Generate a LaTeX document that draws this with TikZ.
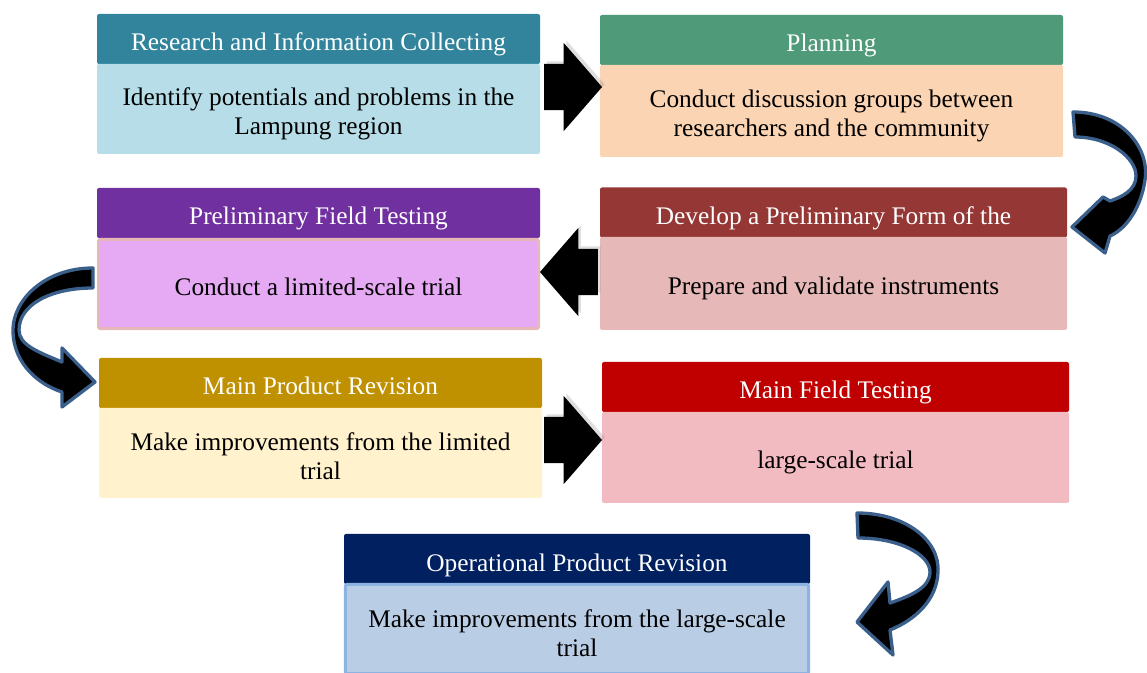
\documentclass[tikz,border=0pt]{standalone}
\usepackage{fontspec}
\setmainfont{Liberation Serif}
\usetikzlibrary{shapes.arrows,shadows}

\definecolor{resHead}{HTML}{31849B}
\definecolor{resBody}{HTML}{B7DEE8}
\definecolor{planHead}{HTML}{4F9A78}
\definecolor{planBody}{HTML}{FBD4B4}
\definecolor{pftHead}{HTML}{7030A0}
\definecolor{pftBody}{HTML}{E6AAF4}
\definecolor{devHead}{HTML}{953735}
\definecolor{devBody}{HTML}{E6B9B8}
\definecolor{mprHead}{HTML}{BF9000}
\definecolor{mprBody}{HTML}{FFF2CC}
\definecolor{mftHead}{HTML}{C00000}
\definecolor{mftBody}{HTML}{F2BAC1}
\definecolor{oprHead}{HTML}{002060}
\definecolor{oprBody}{HTML}{B9CDE5}
\definecolor{oprLine}{HTML}{8DB3E2}
\definecolor{curveLine}{HTML}{3A5F8B}

\tikzset{every picture/.style={line width=0.75pt}}
\tikzset{
  hdr/.style={rectangle, rounded corners=1.5pt, minimum height=37.5pt, inner sep=0pt,
    text=white, font=\fontsize{19}{22}\selectfont, text height=18pt, text depth=0pt},
  bdy/.style={rectangle, rounded corners=1.5pt, inner sep=0pt},
  bdytext/.style={align=center, inner sep=0pt, text=black, font=\fontsize{19}{21.75}\selectfont},
  blkarrow/.style={single arrow, fill=black, draw=none, inner xsep=0pt, inner ysep=16.9pt,
    minimum height=43.5pt, single arrow head extend=15.75pt, single arrow tip angle=98,
    drop shadow={shadow xshift=2pt, shadow yshift=2pt, opacity=0.25}},
  curvarrow/.style={fill=black, draw=curveLine, line width=2.5pt, line join=round}
}

\begin{document}
\begin{tikzpicture}[x=0.75pt,y=0.75pt,yscale=-1,xscale=1]
\useasboundingbox (0,0) rectangle (1147,673);

%Shape: Research and Information Collecting
\node[hdr, fill=resHead, minimum width=332.25pt] (res-h) at (318.5,39) {Research and Information Collecting};
\node[bdy, fill=resBody, minimum width=332.25pt, minimum height=67.5pt] (res-b) at (318.5,109) {};

%Shape: Planning
\node[hdr, fill=planHead, minimum width=347.25pt] (plan-h) at (831.5,40) {Planning};
\node[bdy, fill=planBody, minimum width=347.25pt, minimum height=69pt] (plan-b) at (831.5,111) {};

%Shape: Preliminary Field Testing
\node[hdr, fill=pftHead, minimum width=332.25pt] (pft-h) at (318.5,213) {Preliminary Field Testing};
\node[bdy, fill=pftBody, draw=devBody, line width=2.25pt, minimum width=330pt, minimum height=67pt] (pft-b) at (318.5,284) {};

%Shape: Develop a Preliminary Form of the
\node[hdr, fill=devHead, minimum width=350.25pt] (dev-h) at (833.5,212.5) {Develop a Preliminary Form of the};
\node[bdy, fill=devBody, minimum width=350.25pt, minimum height=69.75pt] (dev-b) at (833.5,283.5) {};

%Shape: Main Product Revision
\node[hdr, fill=mprHead, minimum width=332.25pt] (mpr-h) at (320.5,383) {Main Product Revision};
\node[bdy, fill=mprBody, minimum width=332.25pt, minimum height=67.5pt] (mpr-b) at (320.5,453) {};

%Shape: Main Field Testing
\node[hdr, fill=mftHead, minimum width=350.25pt] (mft-h) at (835.5,387) {Main Field Testing};
\node[bdy, fill=mftBody, minimum width=350.25pt, minimum height=68.25pt] (mft-b) at (835.5,457.5) {};

%Shape: Operational Product Revision
\node[hdr, fill=oprHead, minimum width=349.5pt] (opr-h) at (577,559) {Operational Product Revision};
\node[bdy, fill=oprBody, draw=oprLine, line width=2.25pt, minimum width=347.5pt, minimum height=67pt] (opr-b) at (577,629) {};

% Text Node
\node[bdytext] (res-t) at (318.5,114) {Identify potentials and problems in the\\Lampung region};
% Text Node
\node[bdytext] (plan-t) at (831.5,115.5) {Conduct discussion groups between\\researchers and the community};
% Text Node
\node[bdytext] (pft-t) at (318.5,287) {Conduct a limited-scale trial};
% Text Node
\node[bdytext] (dev-t) at (833.5,288) {Prepare and validate instruments};
% Text Node
\node[bdytext] (mpr-t) at (320.5,456) {Make improvements from the limited\\trial};
% Text Node
\node[bdytext] (mft-t) at (835.5,462.5) {large-scale trial};
% Text Node
\node[bdytext] (opr-t) at (577,633) {Make improvements from the large-scale\\trial};

%Block Arrows
\node[blkarrow] (arr-1) at (563,87) {};
\node[blkarrow, shape border rotate=180] (arr-2) at (579,272) {};
\node[blkarrow] (arr-3) at (563,440) {};

%Curved Arrow: Planning to Develop
\draw[curvarrow] (1073,112) .. controls (1122,112) and (1150,148) .. (1145,180) .. controls (1141,208) and (1126,229) .. (1110,236) -- (1105,253) -- (1072,227) -- (1103,197) -- (1110,201) .. controls (1122,197) and (1136,190) .. (1136,176) .. controls (1136,158) and (1110,137) .. (1075,137) -- cycle ;

%Curved Arrow: Preliminary Field Testing to Main Product Revision
\draw[curvarrow] (93,268) .. controls (45,268) and (12,300) .. (13,332) .. controls (14,365) and (40,385) .. (62,392) -- (62,407) -- (95,382) -- (62,348) -- (62,362) .. controls (38,352) and (19,345) .. (19,330) .. controls (19,305) and (50,288) .. (93,288) -- cycle ;

%Curved Arrow: Main Field Testing to Operational Product Revision
\draw[curvarrow] (857,513) .. controls (905,513) and (940,540) .. (938,572) .. controls (937,600) and (915,620) .. (890,630) -- (893,655) -- (857,622) -- (888,582) -- (890,603) .. controls (910,596) and (930,588) .. (930,572) .. controls (930,555) and (900,538) .. (858,538) -- cycle ;

\end{tikzpicture}
\end{document}
